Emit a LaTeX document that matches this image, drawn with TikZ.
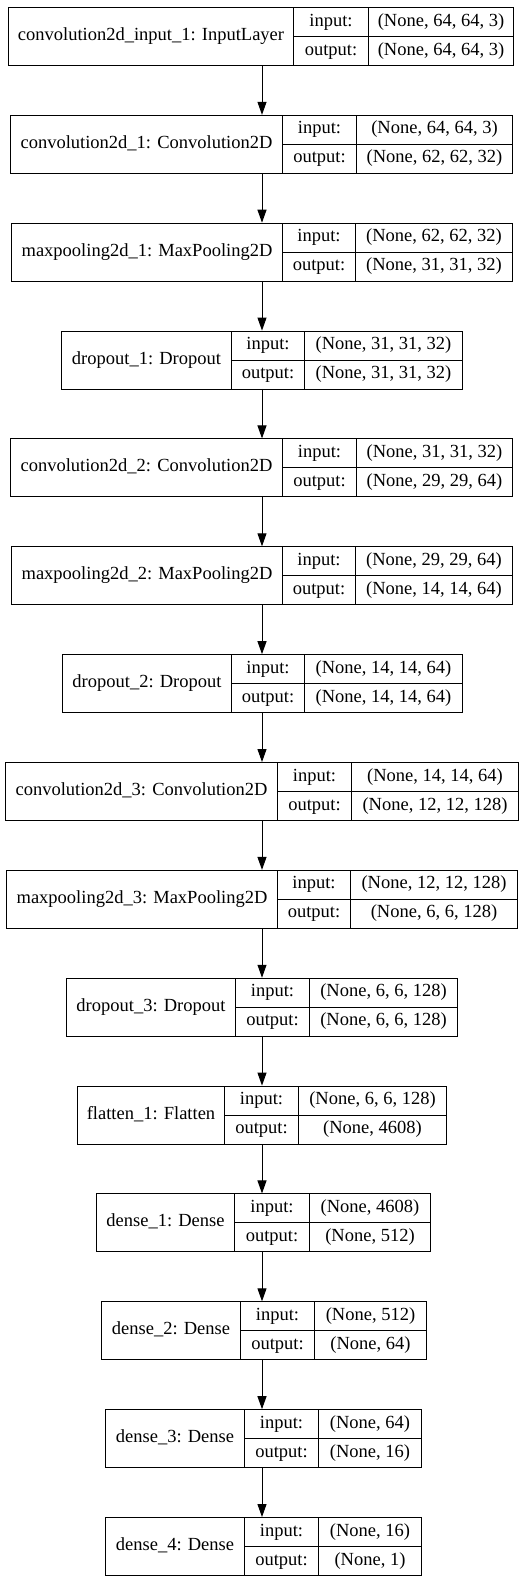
\documentclass[tikz,border=0pt]{standalone}
\usepackage{fontspec}
\setmainfont{Liberation Serif}
\usetikzlibrary{arrows.meta}
\tikzset{
  cell/.style={draw, line width=1pt, inner sep=0pt, anchor=north west,
    font=\fontsize{18.5}{21}\selectfont, text height=12pt, text depth=4pt},
  whole/.style={draw=none, inner sep=0pt, anchor=north west},
  arr/.style={line width=1pt, -{Triangle[length=13pt,width=9pt]}},
}
% #1 name, #2 row, #3 x0, #4 x1, #5 x2, #6 x3, #7 label, #8 in, #9 out
\newcommand\laybox[9]{%
  \pgfmathsetmacro\Tt{7+#2*107.86}%
  \pgfmathsetmacro\Mm{\Tt+29}%
  \pgfmathsetmacro\Wa{#4-#3}%
  \pgfmathsetmacro\Wb{#5-#4}%
  \pgfmathsetmacro\Wc{#6-#5}%
  \pgfmathsetmacro\Wt{#6-#3}%
  \node[whole, minimum width=\Wt pt, minimum height=58pt] (#1) at (#3,\Tt) {};
  \node[cell, minimum width=\Wa pt, minimum height=58pt] (#1-l) at (#3,\Tt) {#7};
  \node[cell, minimum width=\Wb pt, minimum height=29pt] (#1-i) at (#4,\Tt) {input:};
  \node[cell, minimum width=\Wc pt, minimum height=29pt] (#1-iv) at (#5,\Tt) {#8};
  \node[cell, minimum width=\Wb pt, minimum height=29pt] (#1-o) at (#4,\Mm) {output:};
  \node[cell, minimum width=\Wc pt, minimum height=29pt] (#1-ov) at (#5,\Mm) {#9};
}
\begin{document}
\begin{tikzpicture}[x=1pt, y=-1pt]
\useasboundingbox (0,0) rectangle (526,1583);
\coordinate (ax) at (262,0);
\laybox{L0}{0}{8}{293}{368}{513}{convolution2d\_input\_1: InputLayer}{(None, 64, 64, 3)}{(None, 64, 64, 3)}
\laybox{L1}{1}{10}{282}{356}{512}{convolution2d\_1: Convolution2D}{(None, 64, 64, 3)}{(None, 62, 62, 32)}
\laybox{L2}{2}{11}{282}{355}{512}{maxpooling2d\_1: MaxPooling2D}{(None, 62, 62, 32)}{(None, 31, 31, 32)}
\laybox{L3}{3}{61}{231}{304}{462}{dropout\_1: Dropout}{(None, 31, 31, 32)}{(None, 31, 31, 32)}
\laybox{L4}{4}{10}{282}{356}{512}{convolution2d\_2: Convolution2D}{(None, 31, 31, 32)}{(None, 29, 29, 64)}
\laybox{L5}{5}{11}{282}{355}{512}{maxpooling2d\_2: MaxPooling2D}{(None, 29, 29, 64)}{(None, 14, 14, 64)}
\laybox{L6}{6}{62}{231}{304}{462}{dropout\_2: Dropout}{(None, 14, 14, 64)}{(None, 14, 14, 64)}
\laybox{L7}{7}{5}{277}{351}{518}{convolution2d\_3: Convolution2D}{(None, 14, 14, 64)}{(None, 12, 12, 128)}
\laybox{L8}{8}{6}{277}{350}{517}{maxpooling2d\_3: MaxPooling2D}{(None, 12, 12, 128)}{(None, 6, 6, 128)}
\laybox{L9}{9}{66}{235}{309}{457}{dropout\_3: Dropout}{(None, 6, 6, 128)}{(None, 6, 6, 128)}
\laybox{L10}{10}{77}{224}{298}{446}{flatten\_1: Flatten}{(None, 6, 6, 128)}{(None, 4608)}
\laybox{L11}{11}{96}{234}{309}{430}{dense\_1: Dense}{(None, 4608)}{(None, 512)}
\laybox{L12}{12}{101}{240}{314}{426}{dense\_2: Dense}{(None, 512)}{(None, 64)}
\laybox{L13}{13}{105}{244}{318}{421}{dense\_3: Dense}{(None, 64)}{(None, 16)}
\laybox{L14}{14}{105}{244}{318}{421}{dense\_4: Dense}{(None, 16)}{(None, 1)}
\foreach \a/\b in {L0/L1,L1/L2,L2/L3,L3/L4,L4/L5,L5/L6,L6/L7,L7/L8,L8/L9,L9/L10,L10/L11,L11/L12,L12/L13,L13/L14}
  \draw[arr] (\a.south -| ax) -- (\b.north -| ax);
\end{tikzpicture}
\end{document}
